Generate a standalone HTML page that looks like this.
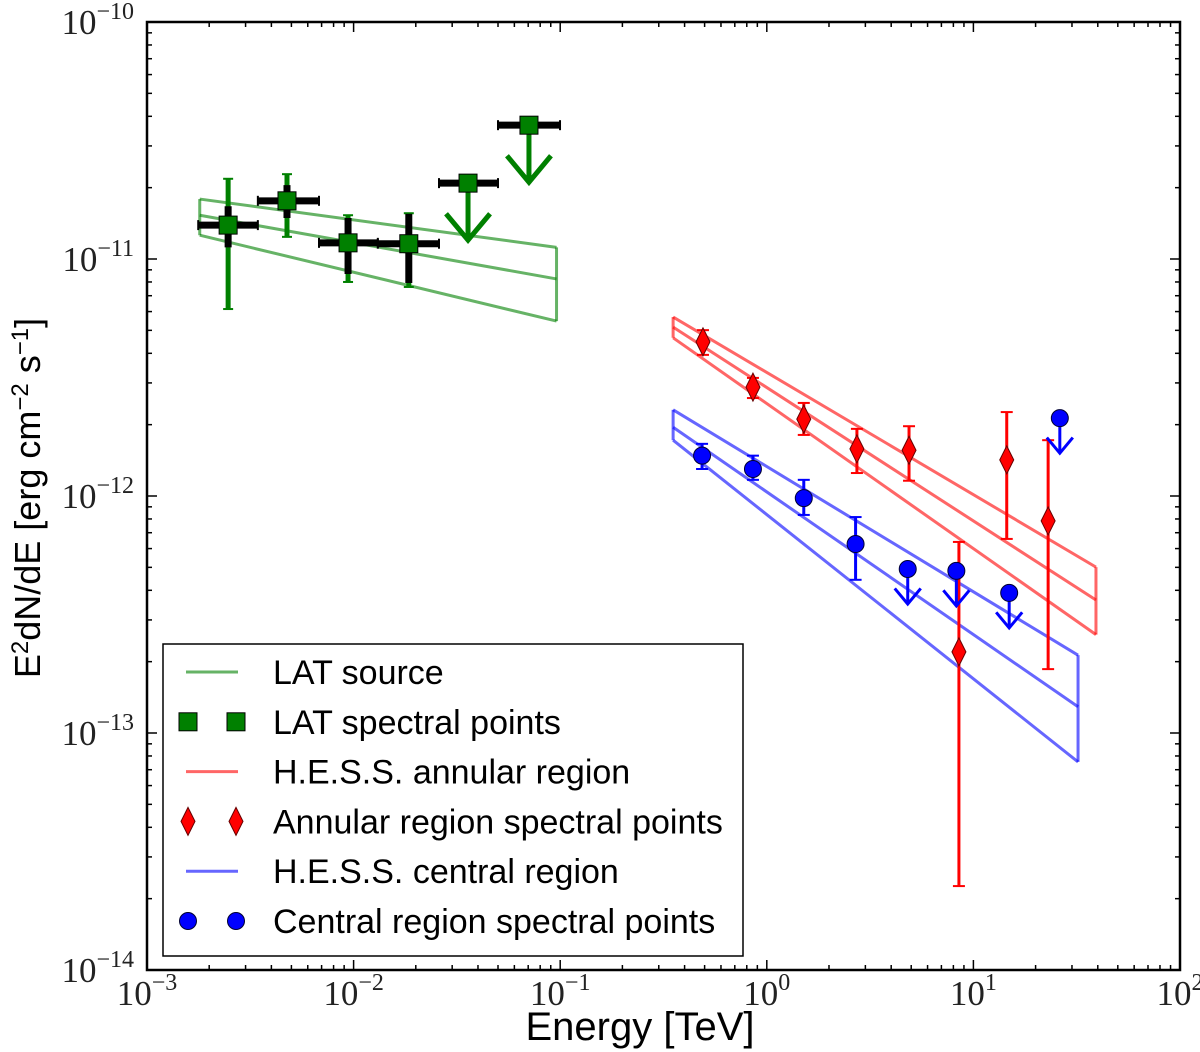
<!DOCTYPE html>
<html><head><meta charset="utf-8"><style>
body{margin:0;background:#fff}
svg{display:block}
.tk{font-family:"Liberation Serif",serif;font-size:35px;fill:#222}
.sup{font-size:24px}
.lg{font-family:"Liberation Sans",sans-serif;font-size:34px;fill:#000}
</style></head><body>
<svg id="chart" width="1200" height="1052" viewBox="0 0 1200 1052" xmlns="http://www.w3.org/2000/svg">
<rect width="1200" height="1052" fill="#fff"/>
<g id="plot"></g>
<g id="axes"></g>
<text x="640" y="1040" text-anchor="middle" font-family="Liberation Sans, sans-serif" font-size="40">Energy [TeV]</text>
<text transform="translate(40,498) rotate(-90)" text-anchor="middle" font-family="Liberation Sans, sans-serif" font-size="36">E<tspan dy="-12" font-size="24">2</tspan><tspan dy="12">dN/dE [erg cm</tspan><tspan dy="-12" font-size="24">−2</tspan><tspan dy="12"> s</tspan><tspan dy="-12" font-size="24">−1</tspan><tspan dy="12">]</tspan></text>
<g id="legend">
<rect x="163" y="644" width="580" height="312" fill="#fff" stroke="#000" stroke-width="1.5"/>
</g>
</svg>
<script>
// ---- data ----
const latE=[2.47e-3,4.76e-3,9.4e-3,1.85e-2,3.58e-2,7.06e-2];
const latElo=[1.77e-3,3.44e-3,6.8e-3,1.31e-2,2.59e-2,5.0e-2];
const latEhi=[3.44e-3,6.8e-3,1.31e-2,2.59e-2,5.0e-2,9.98e-2];
const latF=[1.39e-11,1.76e-11,1.17e-11,1.16e-11,2.09e-11,3.67e-11];
const latStatLo=[1.12e-11,1.49e-11,8.64e-12,7.92e-12,null,null];
const latStatHi=[1.67e-11,2.05e-11,1.49e-11,1.55e-11,null,null];
const latSysLo=[6.15e-12,1.24e-11,8.0e-12,7.62e-12,null,null];
const latSysHi=[2.18e-11,2.28e-11,1.53e-11,1.56e-11,null,null];
const latUL=[false,false,false,false,true,true];
const latBandE=[1.8e-3,0.096];
const latBandUp=[1.79e-11,1.12e-11];
const latBandMid=[1.53e-11,8.24e-12];
const latBandLow=[1.26e-11,5.47e-12];
const annE=[0.491,0.857,1.51,2.73,4.88,14.5,23.0,8.51];
const annF=[4.47e-12,2.88e-12,2.11e-12,1.58e-12,1.56e-12,1.42e-12,7.85e-13,2.2e-13];
const annHi=[5.01e-12,3.15e-12,2.47e-12,1.92e-12,1.97e-12,2.26e-12,1.72e-12,6.4e-13];
const annLo=[3.94e-12,2.59e-12,1.81e-12,1.25e-12,1.16e-12,6.59e-13,1.86e-13,2.26e-14];
const annBandE=[0.352,39.2];
const annBandUp=[5.69e-12,5.01e-13];
const annBandMid=[5.16e-12,3.64e-13];
const annBandLow=[4.65e-12,2.6e-13];
const cenE=[0.486,0.857,1.51,2.69,4.81,8.27,14.9,26.2];
const cenF=[1.48e-12,1.30e-12,9.8e-13,6.27e-13,4.92e-13,4.83e-13,3.90e-13,2.13e-12];
const cenHi=[1.66e-12,1.48e-12,1.17e-12,8.15e-13,null,null,null,null];
const cenLo=[1.30e-12,1.17e-12,8.32e-13,4.43e-13,null,null,null,null];
const cenUL=[false,false,false,false,true,true,true,true];
const cenBandE=[0.352,32.1];
const cenBandUp=[2.31e-12,2.13e-13];
const cenBandMid=[1.95e-12,1.29e-13];
const cenBandLow=[1.72e-12,7.55e-14];
const xTicks=[-3,-2,-1,0,1,2];
const yTicks=[-10,-11,-12,-13,-14];
// ---- axes ----
const X0=147,X1=1180,Y0=22,Y1=970;
const xs=e=>X0+(Math.log10(e)+3)*(X1-X0)/5;
const ys=f=>Y0+(-10-Math.log10(f))*(Y1-Y0)/4;
const NS="http://www.w3.org/2000/svg";
const plot=document.getElementById('plot'),axes=document.getElementById('axes'),leg=document.getElementById('legend');
function mk(tag,at,par){const el=document.createElementNS(NS,tag);for(const k in at)el.setAttribute(k,at[k]);(par||plot).appendChild(el);return el;}
function band(E,up,mid,low,col,name){
  const g=mk('g',{});
  
  
  const st={stroke:col,'stroke-width':3,fill:'none','stroke-opacity':0.6};
  [up,mid,low].forEach(a=>mk('line',Object.assign({x1:xs(E[0]),y1:ys(a[0]),x2:xs(E[1]),y2:ys(a[1])},st),g));
  mk('line',Object.assign({x1:xs(E[0]),y1:ys(up[0]),x2:xs(E[0]),y2:ys(low[0])},st),g);
  mk('line',Object.assign({x1:xs(E[1]),y1:ys(up[1]),x2:xs(E[1]),y2:ys(low[1])},st),g);
}
band(latBandE,latBandUp,latBandMid,latBandLow,'#008000','lat-butterfly');
band(annBandE,annBandUp,annBandMid,annBandLow,'#ff0000','annular-butterfly');
band(cenBandE,cenBandUp,cenBandMid,cenBandLow,'#0000ff','central-butterfly');
function arrow(x,y,len,col,w,hw,g){
  mk('line',{x1:x,y1:y,x2:x,y2:y+len,stroke:col,'stroke-width':w},g);
  mk('polyline',{points:`${x-hw},${y+len-hw*1.2} ${x},${y+len} ${x+hw},${y+len-hw*1.2}`,stroke:col,'stroke-width':w,fill:'none'},g);
}
latE.forEach((e,i)=>{
  const g=mk('g',{});
  
  
  const x=xs(e),y=ys(latF[i]);
  if(latSysLo[i]!==null){
    mk('line',{x1:x,y1:ys(latSysHi[i]),x2:x,y2:ys(latSysLo[i]),stroke:'#008000','stroke-width':5},g);
    mk('line',{x1:x-5,y1:ys(latSysHi[i]),x2:x+5,y2:ys(latSysHi[i]),stroke:'#008000','stroke-width':2},g);
    mk('line',{x1:x-5,y1:ys(latSysLo[i]),x2:x+5,y2:ys(latSysLo[i]),stroke:'#008000','stroke-width':2},g);
    mk('line',{x1:x,y1:ys(latStatHi[i]),x2:x,y2:ys(latStatLo[i]),stroke:'#000','stroke-width':7},g);
  }
  mk('line',{x1:xs(latElo[i]),y1:y,x2:xs(latEhi[i]),y2:y,stroke:'#000','stroke-width':7},g);
  mk('line',{x1:xs(latElo[i]),y1:y-5,x2:xs(latElo[i]),y2:y+5,stroke:'#000','stroke-width':2},g);
  mk('line',{x1:xs(latEhi[i]),y1:y-5,x2:xs(latEhi[i]),y2:y+5,stroke:'#000','stroke-width':2},g);
  if(latUL[i])arrow(x,y,57,'#008000',5,22,g);
  mk('rect',{x:x-9,y:y-9,width:18,height:18,fill:'#008000',stroke:'#000','stroke-width':1},g);
});
annE.forEach((e,i)=>{
  const g=mk('g',{});
  
  
  const x=xs(e),y=ys(annF[i]);
  mk('line',{x1:x,y1:ys(annHi[i]),x2:x,y2:ys(annLo[i]),stroke:'#f00','stroke-width':3},g);
  mk('line',{x1:x-6,y1:ys(annHi[i]),x2:x+6,y2:ys(annHi[i]),stroke:'#f00','stroke-width':2},g);
  mk('line',{x1:x-6,y1:ys(annLo[i]),x2:x+6,y2:ys(annLo[i]),stroke:'#f00','stroke-width':2},g);
  mk('polygon',{points:`${x},${y-14} ${x+7},${y} ${x},${y+14} ${x-7},${y}`,fill:'#f00',stroke:'#600','stroke-width':1},g);
});
cenE.forEach((e,i)=>{
  const g=mk('g',{});
  
  
  const x=xs(e),y=ys(cenF[i]);
  if(cenHi[i]!==null){
    mk('line',{x1:x,y1:ys(cenHi[i]),x2:x,y2:ys(cenLo[i]),stroke:'#00f','stroke-width':3},g);
    mk('line',{x1:x-6,y1:ys(cenHi[i]),x2:x+6,y2:ys(cenHi[i]),stroke:'#00f','stroke-width':2},g);
    mk('line',{x1:x-6,y1:ys(cenLo[i]),x2:x+6,y2:ys(cenLo[i]),stroke:'#00f','stroke-width':2},g);
  }
  if(cenUL[i])arrow(x,y,35,'#00f',3,13,g);
  mk('circle',{cx:x,cy:y,r:8.5,fill:'#00f',stroke:'#003','stroke-width':1},g);
});
mk('rect',{x:X0,y:Y0,width:X1-X0,height:Y1-Y0,fill:'none',stroke:'#000','stroke-width':2.5},axes);
for(let d=-3;d<2;d++)for(let m=1;m<10;m++){
  const x=xs(m*Math.pow(10,d));const L=m==1?10:5;
  mk('line',{x1:x,y1:Y1,x2:x,y2:Y1-L,stroke:'#000','stroke-width':1.5},axes);
  mk('line',{x1:x,y1:Y0,x2:x,y2:Y0+L,stroke:'#000','stroke-width':1.5},axes);
}
for(let d=-14;d<-10;d++)for(let m=1;m<10;m++){
  const y=ys(m*Math.pow(10,d));const L=m==1?10:5;
  mk('line',{x1:X0,y1:y,x2:X0+L,y2:y,stroke:'#000','stroke-width':1.5},axes);
  mk('line',{x1:X1,y1:y,x2:X1-L,y2:y,stroke:'#000','stroke-width':1.5},axes);
}
xTicks.forEach(p=>{
  const t=mk('text',{x:xs(Math.pow(10,p)),y:1005,'text-anchor':'middle',class:'tk'},axes);
  
  
  t.innerHTML='10<tspan class="sup" dy="-15">'+(p<0?'−'+(-p):p)+'</tspan>';
});
yTicks.forEach(p=>{
  const t=mk('text',{x:134,y:ys(Math.pow(10,p))+12,'text-anchor':'end',class:'tk'},axes);
  
  
  t.innerHTML='10<tspan class="sup" dy="-15">−'+(-p)+'</tspan>';
});
const labels=['LAT source','LAT spectral points','H.E.S.S. annular region','Annular region spectral points','H.E.S.S. central region','Central region spectral points'];
labels.forEach((s,i)=>{
  const y=672+i*49.8;
  const g=mk('g',{},leg);
  
  
  if(i==0||i==2||i==4){
    const c=['#008000','','#ff0000','','#0000ff'][i];
    mk('line',{x1:186,y1:y,x2:238,y2:y,stroke:c,'stroke-width':3,'stroke-opacity':0.6},g);
  }else{
    [188,236].forEach(x=>{
      if(i==1)mk('rect',{x:x-9,y:y-9,width:18,height:18,fill:'#008000',stroke:'#000','stroke-width':1},g);
      if(i==3)mk('polygon',{points:`${x},${y-14} ${x+7},${y} ${x},${y+14} ${x-7},${y}`,fill:'#f00',stroke:'#600','stroke-width':1},g);
      if(i==5)mk('circle',{cx:x,cy:y,r:8.5,fill:'#00f',stroke:'#003','stroke-width':1},g);
    });
  }
  const t=mk('text',{x:273,y:y+12,class:'lg'},g);
  t.textContent=s;
});
</script>
</body></html>
